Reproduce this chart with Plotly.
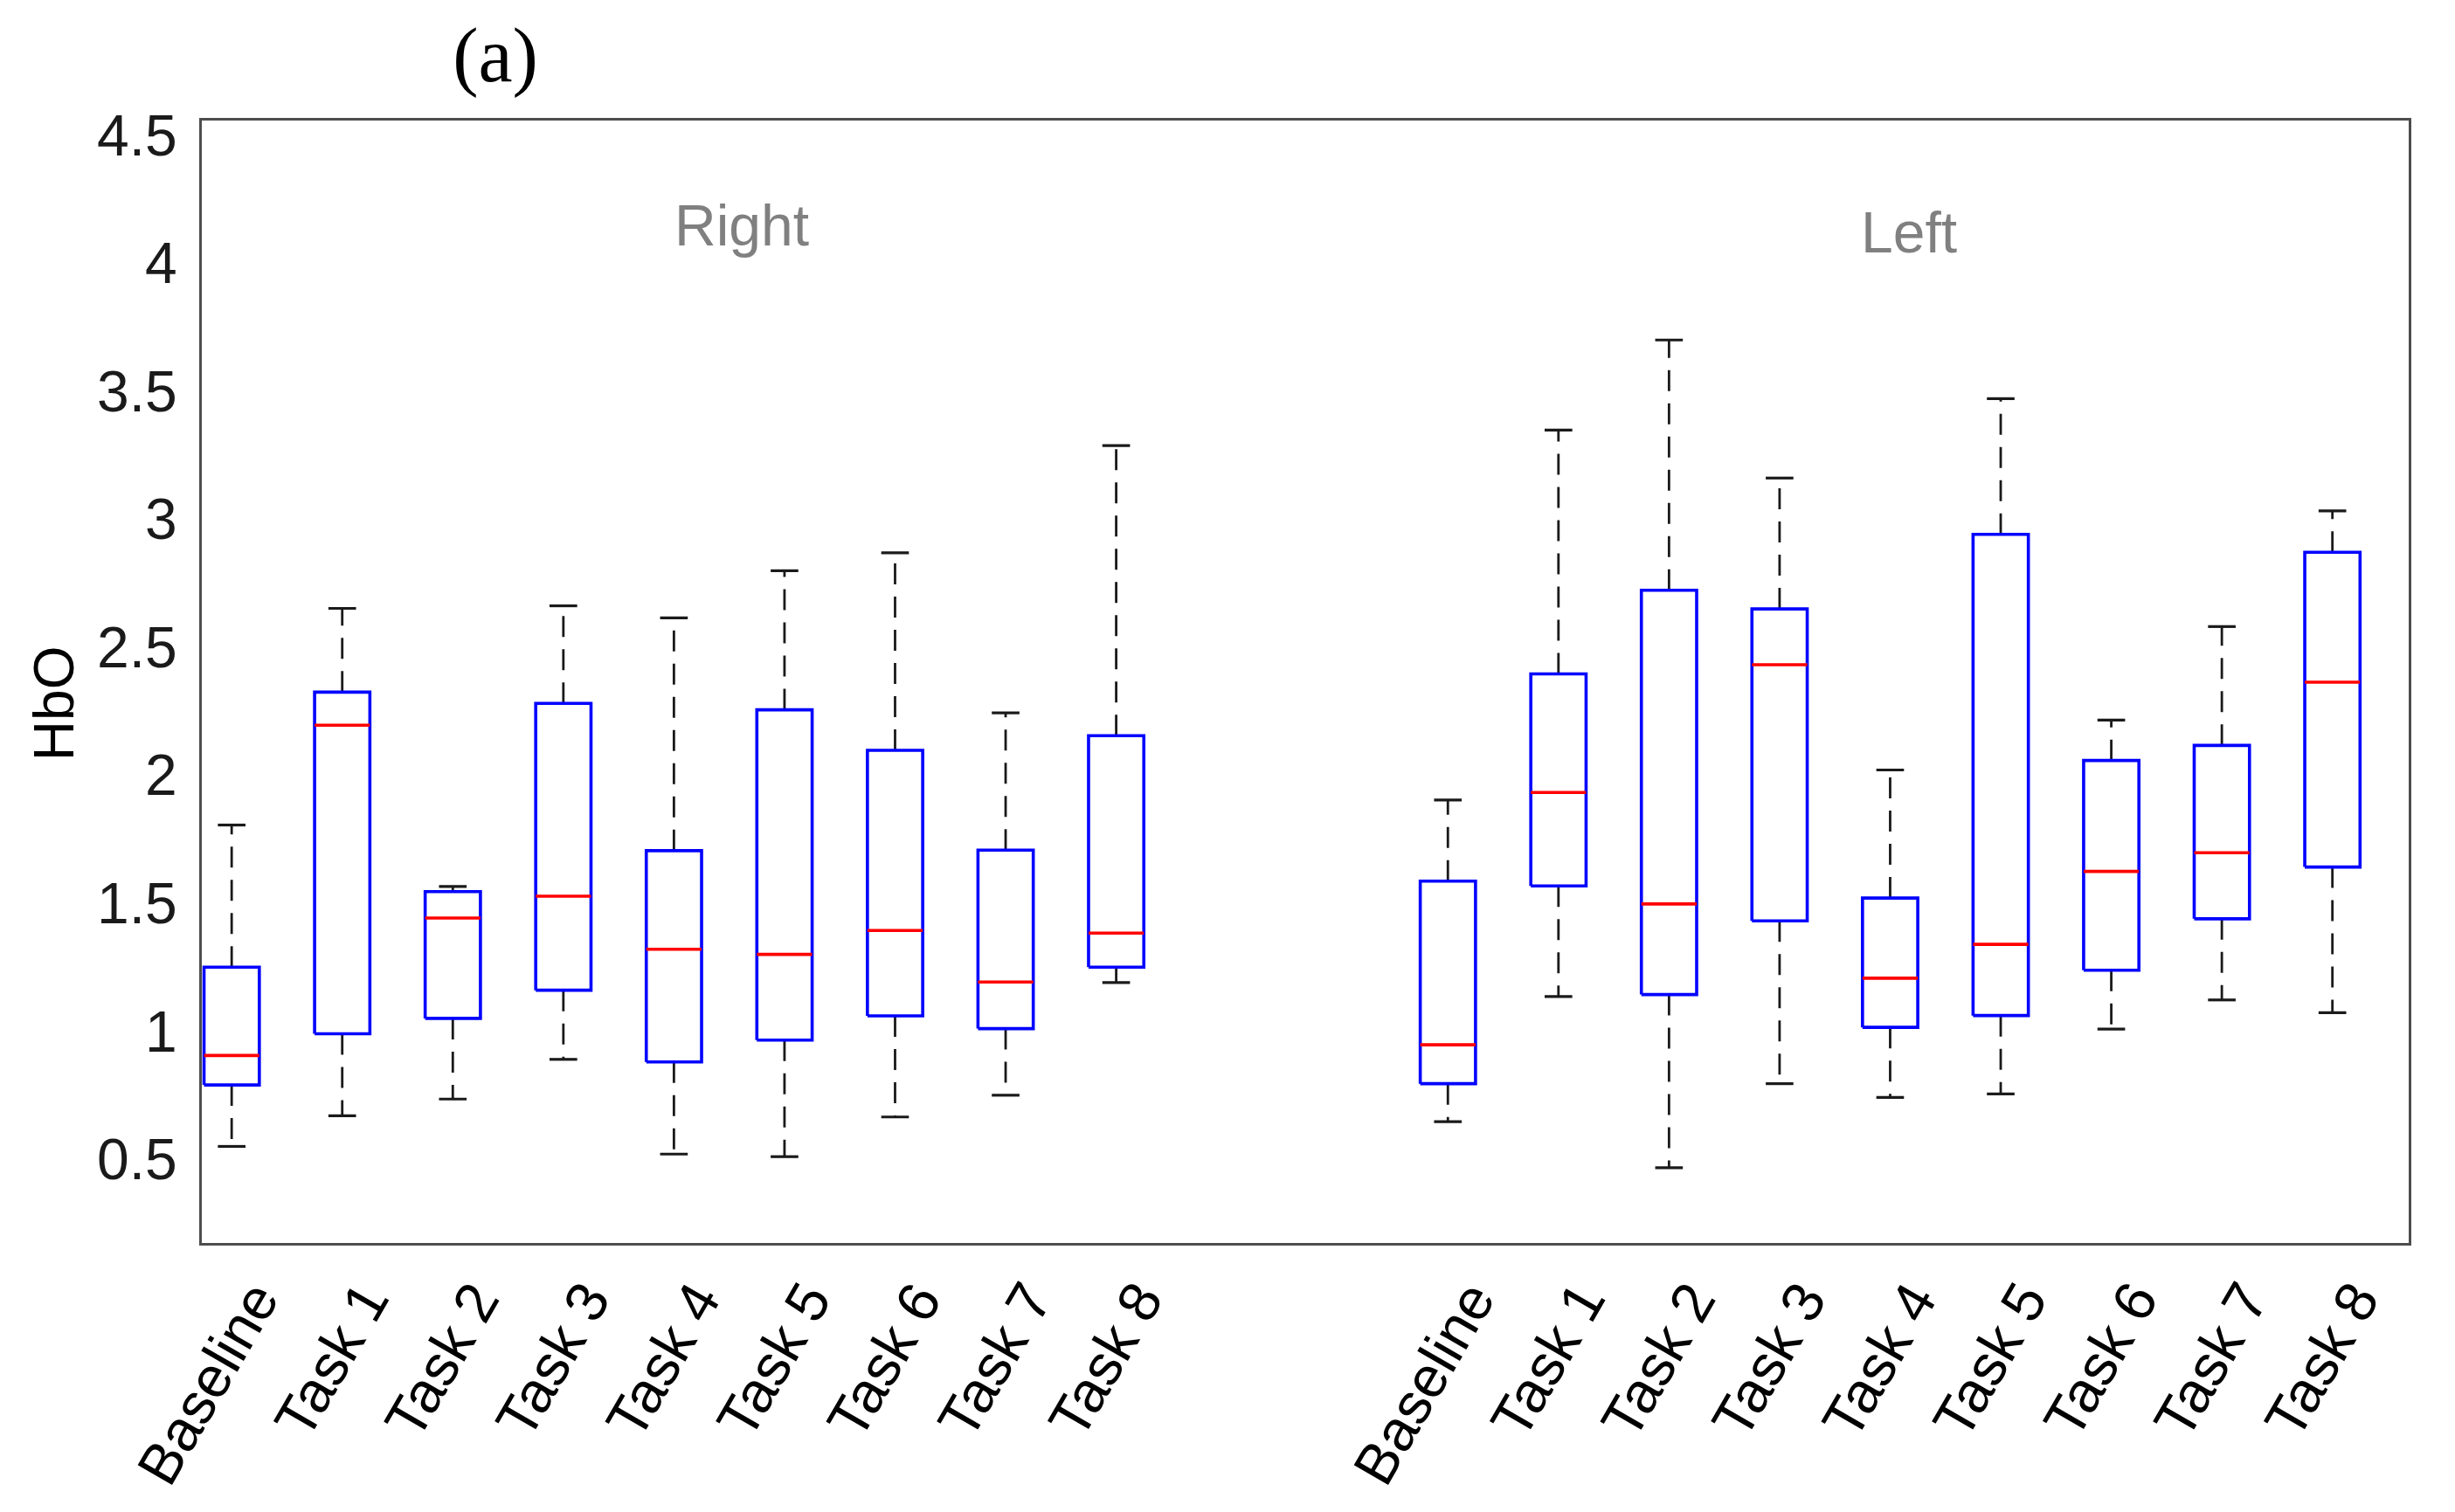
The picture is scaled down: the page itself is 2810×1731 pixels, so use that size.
import plotly.graph_objects as go

# ---------------- data ----------------
categories = ["Baseline", "Task 1", "Task 2", "Task 3", "Task 4",
              "Task 5", "Task 6", "Task 7", "Task 8"]
groups = ["Right", "Left"]

right_lower  = [0.55, 0.67, 0.735, 0.89, 0.52, 0.51, 0.665, 0.75, 1.19]
right_q1     = [0.79, 0.99, 1.05, 1.16, 0.88, 0.965, 1.06, 1.01, 1.25]
right_median = [0.905, 2.195, 1.442, 1.527, 1.32, 1.30, 1.393, 1.192, 1.383]
right_q3     = [1.25, 2.324, 1.545, 2.28, 1.705, 2.255, 2.097, 1.707, 2.154]
right_upper  = [1.805, 2.651, 1.565, 2.661, 2.614, 2.798, 2.868, 2.243, 3.287]

left_lower   = [0.647, 1.135, 0.467, 0.795, 0.741, 0.755, 1.008, 1.122, 1.072]
left_q1      = [0.795, 1.567, 1.143, 1.431, 1.015, 1.061, 1.238, 1.439, 1.641]
left_median  = [0.947, 1.932, 1.497, 2.431, 1.207, 1.339, 1.624, 1.697, 2.363]
left_q3      = [1.586, 2.395, 2.722, 2.649, 1.52, 2.94, 2.057, 2.116, 2.870]
left_upper   = [1.903, 3.347, 3.699, 3.16, 2.02, 3.47, 2.215, 2.58, 3.032]

ytick_vals = [0.5, 1, 1.5, 2, 2.5, 3, 3.5, 4, 4.5]
ytick_text = ["0.5", "1", "1.5", "2", "2.5", "3", "3.5", "4", "4.5"]
y_title = "HbO"

# ---------------- layout constants ----------------
OFF = 8  # default page body margin
W, H = 2810 - OFF, 1731 - OFF
ML, MR, MT, MB = 231 - OFF, 53, 138 - OFF, 308
XR = [0.73, 20.69]
YR = [0.173, 4.556]
BOX_HALF = 0.25
CAP_HALF = 0.125
FONT = "Liberation Sans, Arial, sans-serif"

group_data = [
    (right_lower, right_q1, right_median, right_q3, right_upper),
    (left_lower, left_q1, left_median, left_q3, left_upper),
]
group_start = [1, 12]

bx, by, wx, wy, cx, cy, mx, my = [], [], [], [], [], [], [], []
all_pos = []
for gi, (lo, q1, md, q3, up) in enumerate(group_data):
    for i in range(len(categories)):
        p = group_start[gi] + i
        all_pos.append((p, categories[i]))
        bx += [p - BOX_HALF, p + BOX_HALF, p + BOX_HALF, p - BOX_HALF, p - BOX_HALF, None]
        by += [q1[i], q1[i], q3[i], q3[i], q1[i], None]
        wx += [p, p, None, p, p, None]
        wy += [q3[i], up[i], None, q1[i], lo[i], None]
        cx += [p - CAP_HALF, p + CAP_HALF, None, p - CAP_HALF, p + CAP_HALF, None]
        cy += [up[i], up[i], None, lo[i], lo[i], None]
        mx += [p - BOX_HALF, p + BOX_HALF, None]
        my += [md[i], md[i], None]

fig = go.Figure()
fig.add_trace(go.Scatter(x=wx, y=wy, mode="lines", hoverinfo="skip",
                         line=dict(color="#1a1a1a", width=2.8, dash="24px,14px")))
fig.add_trace(go.Scatter(x=cx, y=cy, mode="lines", hoverinfo="skip",
                         line=dict(color="#1a1a1a", width=3.2)))
fig.add_trace(go.Scatter(x=bx, y=by, mode="lines", hoverinfo="skip",
                         line=dict(color="#0000ff", width=3.6)))
fig.add_trace(go.Scatter(x=mx, y=my, mode="lines", hoverinfo="skip",
                         line=dict(color="#ff0000", width=3.6)))

annotations = []
for p, lab in all_pos:
    annotations.append(dict(x=p, y=0, xref="x", yref="paper", text=lab,
                            showarrow=False, textangle=-60,
                            xanchor="right", yanchor="top",
                            xshift=70, yshift=-30,
                            font=dict(family=FONT, size=66, color="black")))
annotations.append(dict(x=0.2447, y=0.9066, xref="paper", yref="paper",
                        xanchor="center", yanchor="middle",
                        text=groups[0], showarrow=False,
                        font=dict(family=FONT, size=66, color="#808080")))
annotations.append(dict(x=0.7736, y=0.9004, xref="paper", yref="paper",
                        xanchor="center", yanchor="middle",
                        text=groups[1], showarrow=False,
                        font=dict(family=FONT, size=66, color="#808080")))
annotations.append(dict(x=-0.0668, y=0.481, xref="paper", yref="paper",
                        xanchor="center", yanchor="middle", textangle=-90,
                        text=y_title, showarrow=False,
                        font=dict(family=FONT, size=64, color="black")))

fig.update_layout(
    width=W, height=H,
    margin=dict(l=ML, r=MR, t=MT, b=MB, pad=0),
    plot_bgcolor="white", paper_bgcolor="white",
    showlegend=False,
    title=dict(text="(a)", x=(567 - OFF) / W, y=1 - (62 - OFF) / H,
               xref="container", yref="container",
               xanchor="center", yanchor="middle",
               font=dict(family="Liberation Serif, Times New Roman, serif", size=88, color="black")),
    annotations=annotations,
)

fig.update_xaxes(range=XR, showgrid=False, zeroline=False, showticklabels=False,
                 ticks="", showline=True, linecolor="#4d4d4d", linewidth=3, mirror=True)
fig.update_yaxes(range=YR, showgrid=False, zeroline=False,
                 tickvals=ytick_vals, ticktext=ytick_text, ticks="",
                 ticklabelstandoff=12,
                 tickfont=dict(family=FONT, size=66, color="#1a1a1a"),
                 showline=True, linecolor="#4d4d4d", linewidth=3, mirror=True)

fig.write_html("out.html")
